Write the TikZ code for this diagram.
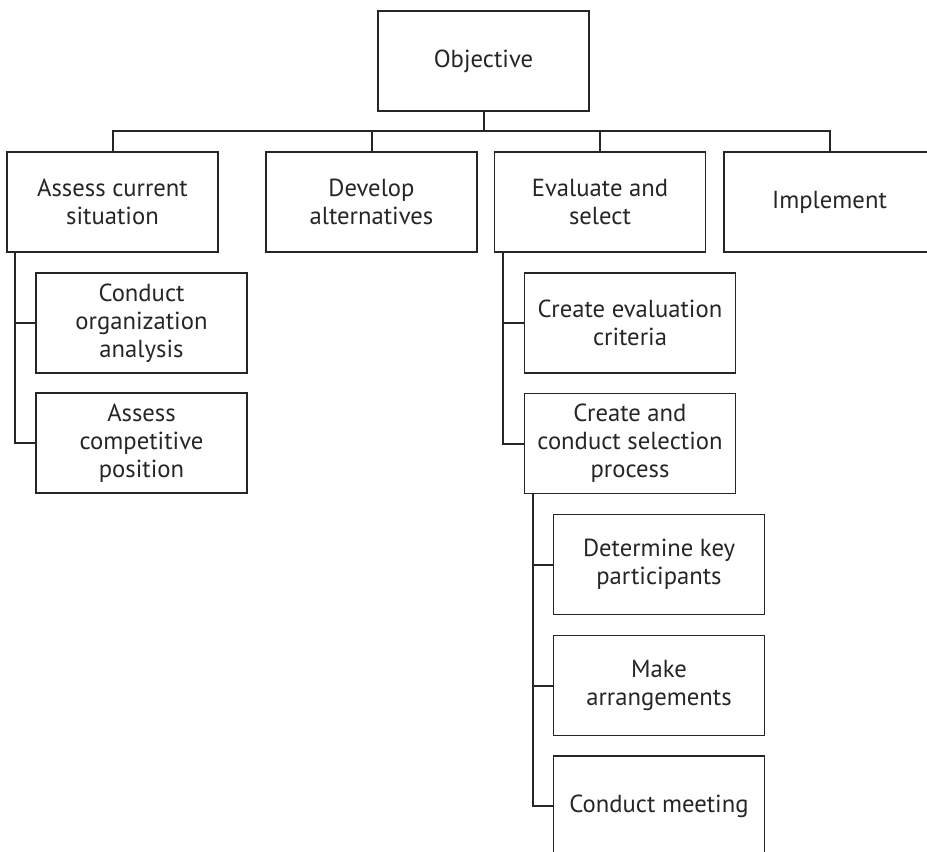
\documentclass[tikz,border=0pt]{standalone}
\usepackage{fontspec}
\setmainfont{PT Sans}
\usetikzlibrary{calc}
\begin{document}
\begin{tikzpicture}[x=0.75pt,y=-0.75pt,
  box/.style={draw=black!85, line width=1.2pt, fill=white, inner sep=0pt,
    minimum width=158.25pt, minimum height=75pt, align=center,
    font=\fontsize{18.5}{21}\selectfont, text=black!85},
  conn/.style={draw=black!85, line width=1.5pt}]
\useasboundingbox (0,0) rectangle (927,852);
\clip (0,0) rectangle (927,852);
\coordinate (bus) at (0,131);
\node[box] (obj) at (483.5,61) {Objective};
\node[box] (a1) at (112.5,202) {Assess current\\situation};
\node[box] (a2) at (371.5,202) {Develop\\alternatives};
\node[box] (a3) at (600,202) {Evaluate and\\select};
\node[box] (a4) at (829.5,202) {Implement};
\node[box] (b1) at (141.5,323) {Conduct\\organization\\analysis};
\node[box] (b2) at (141.5,443) {Assess\\competitive\\position};
\node[box] (c1) at (630,323) {Create evaluation\\criteria};
\node[box] (c2) at (630,443.5) {Create and\\conduct selection\\process};
\node[box] (d1) at (659,564.5) {Determine key\\participants};
\node[box] (d2) at (659,685.5) {Make\\arrangements};
\node[box] (d3) at (659,806) {Conduct meeting};
\draw[conn] (obj.south) -- (obj.south |- bus);
\draw[conn] (a1.north) -- (a1.north |- bus) -- (a4.north |- bus) -- (a4.north);
\draw[conn] (a2.north) -- (a2.north |- bus);
\draw[conn] (a3.north) -- (a3.north |- bus);
\coordinate (av) at ($(a1.south west)+(9,0)$);
\draw[conn] (av) |- (b1.west);
\draw[conn] (av) |- (b2.west);
\coordinate (cv) at ($(a3.south west)+(9,0)$);
\draw[conn] (cv) |- (c1.west);
\draw[conn] (cv) |- (c2.west);
\coordinate (dv) at ($(c2.south west)+(9,0)$);
\draw[conn] (dv) |- (d1.west);
\draw[conn] (dv) |- (d2.west);
\draw[conn] (dv) |- (d3.west);
\end{tikzpicture}
\end{document}
